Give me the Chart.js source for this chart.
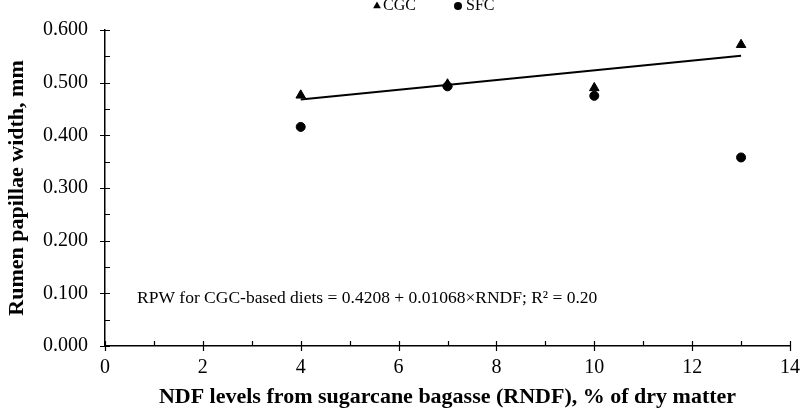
<!DOCTYPE html>
<html>
<head>
<meta charset="utf-8">
<script src="https://cdn.jsdelivr.net/npm/chart.js@4/dist/chart.umd.min.js"></script>
<style>
  html, body { margin: 0; padding: 0; background: #fff; }
  #wrap { width: 800px; height: 411px; }
</style>
</head>
<body>
<div id="wrap"><canvas id="chart"></canvas></div>
<script>
const ndfLevels = [4, 7, 10, 13];
const cgcWidth = [0.476, 0.497, 0.490, 0.572];
const sfcWidth = [0.416, 0.493, 0.475, 0.358];
const fitX = [4, 13];
const fitY = [0.468, 0.551];
const equationText = 'RPW for CGC-based diets = 0.4208 + 0.01068\u00d7RNDF; R\u00b2 = 0.20';

const serif = '"Liberation Serif", "Times New Roman", serif';

// axis ticks that cross the axis line, plus minor ticks on the inside
const axisTicks = {
    id: 'axisTicks',
    afterDraw(chart) {
        const { ctx, scales: { x, y } } = chart;
        ctx.save();
        ctx.strokeStyle = '#000';
        ctx.lineWidth = 1.2;
        ctx.beginPath();
        for (let v = 0; v <= 14; v++) {
            const px = Math.round(x.getPixelForValue(v)) + 0.5;
            const major = v % 2 === 0;
            ctx.moveTo(px, y.bottom - 5);
            ctx.lineTo(px, major ? y.bottom + 5 : y.bottom);
        }
        for (let i = 0; i <= 12; i++) {
            const py = Math.round(y.getPixelForValue(i * 0.05)) + 0.5;
            const major = i % 2 === 0;
            ctx.moveTo(major ? x.left - 5 : x.left, py);
            ctx.lineTo(x.left + 5, py);
        }
        ctx.stroke();
        ctx.restore();
    }
};

// legend at top and the regression equation
const notes = {
    id: 'notes',
    afterDraw(chart) {
        const { ctx } = chart;
        ctx.save();
        ctx.fillStyle = '#000';
        ctx.strokeStyle = '#000';
        Chart.helpers.drawPoint(ctx, { pointStyle: 'triangle', radius: 4.5, rotation: 0 }, 377, 6);
        Chart.helpers.drawPoint(ctx, { pointStyle: 'circle', radius: 4, rotation: 0 }, 458, 6);
        ctx.font = '16px ' + serif;
        ctx.textBaseline = 'middle';
        ctx.textAlign = 'left';
        ctx.fillText('CGC', 383, 6);
        ctx.fillText('SFC', 466, 6);
        ctx.font = '17.5px ' + serif;
        ctx.fillText(equationText, 137, 298);
        ctx.restore();
    }
};

new Chart(document.getElementById('chart'), {
    type: 'scatter',
    data: {
        datasets: [
            {
                label: 'CGC',
                data: ndfLevels.map((v, i) => ({ x: v, y: cgcWidth[i] })),
                pointStyle: 'triangle',
                pointRadius: 5.5,
                backgroundColor: '#000',
                borderColor: '#000',
            },
            {
                label: 'SFC',
                data: ndfLevels.map((v, i) => ({ x: v, y: sfcWidth[i] })),
                pointStyle: 'circle',
                pointRadius: 4.5,
                backgroundColor: '#000',
                borderColor: '#000',
            },
            {
                type: 'line',
                label: 'fit',
                data: fitX.map((v, i) => ({ x: v, y: fitY[i] })),
                borderColor: '#000',
                borderWidth: 2,
                pointRadius: 0,
                fill: false,
            },
        ]
    },
    options: {
        responsive: true,
        maintainAspectRatio: false,
        animation: false,
        layout: { padding: { top: 30, right: 0, left: 0, bottom: 0 } },
        plugins: {
            legend: { display: false },
            tooltip: { enabled: false },
        },
        scales: {
            x: {
                type: 'linear',
                min: 0,
                max: 14,
                grid: { display: false },
                border: { display: true, color: '#000', width: 1.5 },
                ticks: {
                    stepSize: 2,
                    padding: 2,
                    color: '#000',
                    font: { family: serif, size: 20 },
                },
                title: {
                    display: true,
                    text: 'NDF levels from sugarcane bagasse (RNDF), % of dry matter',
                    color: '#000',
                    font: { family: serif, size: 22, weight: 'bold' },
                    padding: { top: 0, bottom: 0 },
                },
                afterFit(scale) {
                    scale.height = 65;
                    scale.paddingLeft = 0;
                    scale.paddingRight = 10;
                },
            },
            y: {
                min: 0,
                max: 0.6,
                grid: { display: false },
                border: { display: true, color: '#000', width: 1.5 },
                ticks: {
                    stepSize: 0.1,
                    padding: 9,
                    color: '#000',
                    font: { family: serif, size: 20 },
                    callback: v => v.toFixed(3),
                },
                title: {
                    display: true,
                    text: 'Rumen papillae width, mm',
                    color: '#000',
                    font: { family: serif, size: 22, weight: 'bold' },
                    padding: { top: 4, bottom: 0 },
                },
                afterFit(scale) {
                    scale.width = 105;
                    scale.paddingTop = 0;
                    scale.paddingBottom = 0;
                },
            },
        },
    },
    plugins: [axisTicks, notes],
});
</script>
</body>
</html>
